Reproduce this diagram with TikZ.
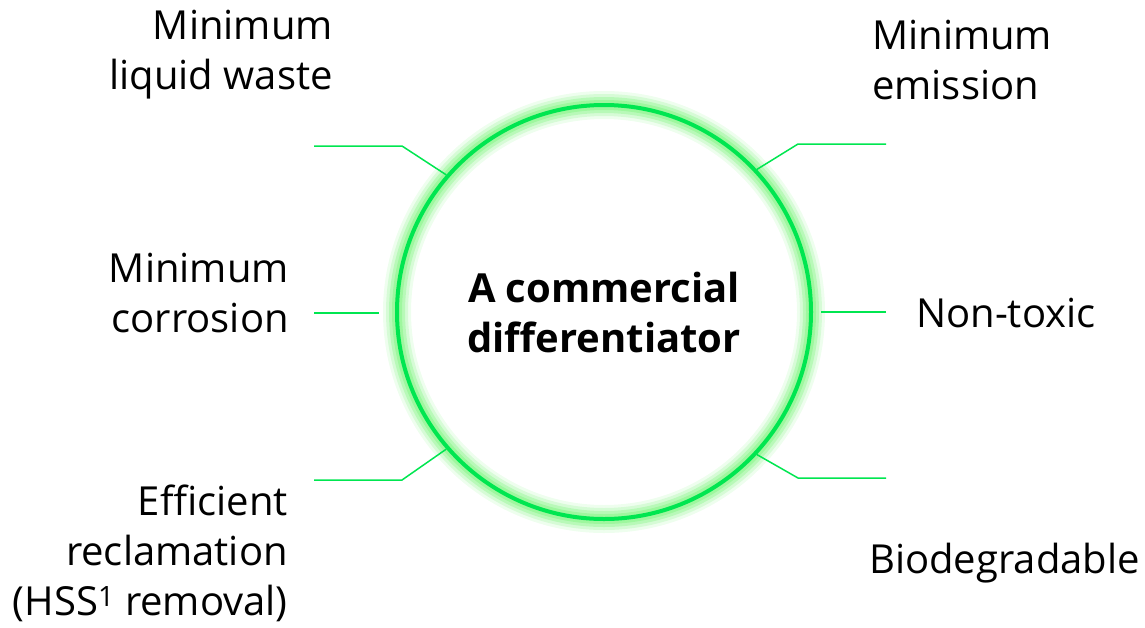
\documentclass[tikz,border=0pt]{standalone}
\usepackage{fontspec}
\setmainfont{Open Sans}
\definecolor{leaf}{RGB}{0,230,80}
\definecolor{halo}{RGB}{140,245,140}
\begin{document}
\begin{tikzpicture}[x=1pt, y=-1pt,
    hub/.style = {circle, draw=leaf, line width=4pt, minimum size=414pt, inner sep=0pt, align=center, font=\fontsize{40}{50}\selectfont\bfseries},
    tag/.style = {inner sep=0pt, font=\fontsize{40}{50}\selectfont},
    link/.style = {draw=leaf, line width=1.5pt}]
    \useasboundingbox (0,0) rectangle (1145,627);
    % glow round the circle
    \foreach \w/\o in {28/0.15, 22/0.25, 16/0.4, 10/0.6}
        \draw[halo, line width=\w pt, opacity=\o] (604,312) circle (207pt);
    \node[hub] (c) at (604,312) {A commercial\\differentiator};

    \node[tag, anchor=east, align=right] (lw) at (333,55) {Minimum\\liquid waste};
    \node[tag, anchor=west, align=left] (em) at (872,60) {Minimum\\emission};
    \node[tag, anchor=east, align=right] (co) at (289,293) {Minimum\\corrosion};
    \node[tag, anchor=west] (nt) at (916,313) {Non-toxic};
    \node[tag, anchor=east, align=right] (re) at (288,553) {Efficient\\reclamation\\(HSS\textsuperscript{1} removal)};
    \node[tag, anchor=west] (bd) at (869,563) {Biodegradable};

    \coordinate (lw1) at (314,146); \coordinate (lw2) at (402,146);
    \coordinate (em1) at (886,144); \coordinate (em2) at (798,144);
    \coordinate (co1) at (314,313); \coordinate (co2) at (379,313);
    \coordinate (nt1) at (886,312); \coordinate (nt2) at (821,312);
    \coordinate (re1) at (314,480); \coordinate (re2) at (402,480);
    \coordinate (bd1) at (886,478); \coordinate (bd2) at (798,478);

    \draw[link] (lw1) -- (lw2) -- (c.139);
    \draw[link] (em1) -- (em2) -- (c.43);
    \draw[link] (co1) -- (co2);
    \draw[link] (nt1) -- (nt2);
    \draw[link] (re1) -- (re2) -- (c.-139);
    \draw[link] (bd1) -- (bd2) -- (c.-43);
\end{tikzpicture}
\end{document}
